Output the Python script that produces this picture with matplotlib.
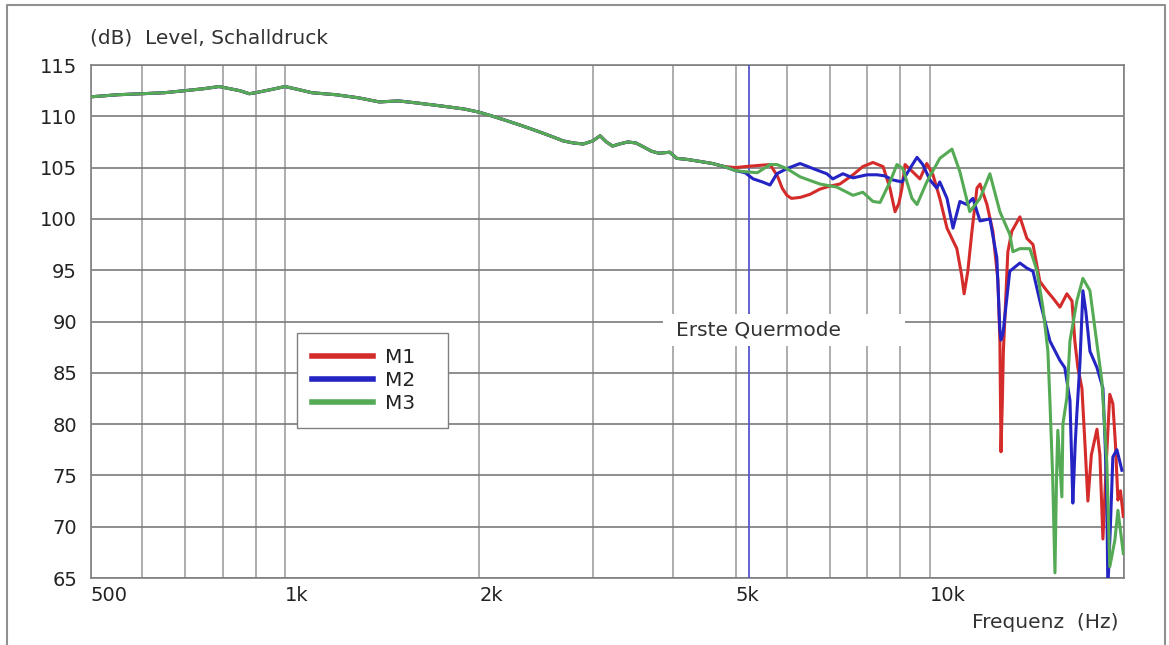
import matplotlib
matplotlib.use("Agg")
import matplotlib.pyplot as plt
from matplotlib.lines import Line2D
from matplotlib.patches import Rectangle
from matplotlib.ticker import NullFormatter

plt.rcParams["font.family"] = ["DejaVu Sans"]

# common part of all three measurements (up to ~5 kHz)
freq_low = [500, 550, 600, 650, 700, 750, 790, 850, 880, 900, 950, 1000, 1050, 1100,
            1200, 1300, 1400, 1500, 1600, 1700, 1800, 1900, 2000, 2100, 2200, 2300,
            2400, 2500, 2600, 2700, 2800, 2900, 3000, 3080, 3150, 3220, 3300, 3400,
            3500, 3600, 3700, 3800, 3950, 4050, 4200, 4400, 4600, 4800]
level_low = [111.9, 112.1, 112.2, 112.3, 112.5, 112.7, 112.9, 112.5, 112.2, 112.3, 112.6,
             112.9, 112.6, 112.3, 112.1, 111.8, 111.4, 111.5, 111.3, 111.1, 110.9, 110.7,
             110.4, 110.0, 109.6, 109.2, 108.8, 108.4, 108.0, 107.6, 107.4, 107.3, 107.6,
             108.1, 107.5, 107.1, 107.3, 107.5, 107.4, 107.0, 106.6, 106.4, 106.5, 105.9,
             105.8, 105.6, 105.4, 105.1]

# M1 above 5 kHz
freq_m1 = [5000, 5170, 5400, 5650, 5800, 5900, 6000, 6100, 6300, 6520, 6750, 7000, 7250,
           7600, 7870, 8160, 8460, 8670, 8830, 8950, 9050, 9150, 9400, 9650, 9890, 10110,
           10360, 10630, 11010, 11200, 11300, 11450, 11620, 11830, 11960, 12260, 12520,
           12750, 12840, 12890, 12950, 13000, 13210, 13400, 13790, 14140, 14450, 14810,
           15180, 15510, 15910, 16310, 16610, 16780, 16960, 17210, 17400, 17580, 17800,
           18160, 18350, 18550, 18800, 19010, 19220, 19400, 19570, 19750, 19950]
level_m1 = [105.0, 105.1, 105.2, 105.3, 104.2, 103.0, 102.3, 102.0, 102.1, 102.4, 102.9,
            103.2, 103.4, 104.3, 105.1, 105.5, 105.1, 103.0, 100.7, 101.5, 103.0, 105.3,
            104.6, 103.9, 105.4, 104.3, 102.0, 99.1, 97.1, 94.5, 92.7, 94.9, 98.8, 103.0,
            103.4, 101.4, 98.8, 94.0, 88.0, 77.3, 82.0, 87.1, 96.8, 98.8, 100.2, 98.1,
            97.5, 93.9, 93.0, 92.3, 91.4, 92.7, 92.0, 88.1, 85.5, 83.5, 78.0, 72.5, 77.0,
            79.5, 77.0, 68.8, 77.0, 82.9, 82.0, 78.0, 72.6, 73.5, 71.0]

# M2 above 5 kHz
freq_m2 = [5000, 5170, 5320, 5500, 5650, 5790, 6000, 6290, 6590, 6920, 7070, 7330, 7600,
           7990, 8280, 8500, 8760, 9050, 9310, 9550, 9750, 10000, 10250, 10360, 10630,
           10860, 11130, 11410, 11660, 11960, 12390, 12700, 12840, 12890, 12980, 13300,
           13790, 14140, 14450, 14810, 15350, 15910, 16190, 16490, 16600, 16660, 16800,
           16900, 17090, 17270, 17450, 17710, 18160, 18550, 18700, 18810, 18880, 19050,
           19220, 19500, 19850]
level_m2 = [104.7, 104.5, 103.9, 103.6, 103.3, 104.4, 104.9, 105.4, 104.9, 104.4, 103.9,
            104.4, 104.0, 104.3, 104.3, 104.2, 103.8, 103.6, 104.9, 106.0, 105.3, 103.8,
            103.0, 103.6, 102.0, 99.1, 101.7, 101.4, 102.0, 99.8, 100.0, 96.2, 89.1, 88.2,
            88.8, 94.9, 95.7, 95.2, 94.9, 92.0, 88.1, 86.2, 85.5, 82.3, 76.0, 72.3, 78.0,
            81.0, 86.0, 93.0, 91.0, 87.1, 85.5, 83.5, 78.0, 72.6, 64.0, 70.0, 76.8, 77.5,
            75.5]

# M3 above 5 kHz
freq_m3 = [5000, 5170, 5400, 5650, 5790, 6000, 6290, 6750, 7170, 7600, 7870, 8160, 8370,
           8670, 8890, 9080, 9380, 9550, 9890, 10360, 10820, 11130, 11530, 11960, 12390,
           12840, 13300, 13450, 13790, 14290, 14650, 14970, 15240, 15350, 15500, 15630,
           15720, 15790, 16020, 16080, 16310, 16490, 16900, 17270, 17710, 18160, 18480,
           18810, 19010, 19360, 19570, 19950]
level_m3 = [104.7, 104.6, 104.5, 105.3, 105.3, 104.9, 104.1, 103.4, 103.1, 102.3, 102.6,
            101.7, 101.6, 103.6, 105.3, 104.9, 102.0, 101.4, 103.6, 105.9, 106.8, 104.6,
            100.7, 102.0, 104.4, 100.7, 98.5, 96.8, 97.1, 97.1, 95.0, 91.4, 87.1, 82.3,
            75.0, 65.5, 75.0, 79.4, 72.9, 80.0, 82.6, 88.1, 92.0, 94.2, 93.0, 87.8, 84.2,
            76.2, 66.1, 68.7, 71.6, 67.4]

series = {
    "M1": (freq_low + freq_m1, level_low + level_m1, "#d42b2b"),
    "M2": (freq_low + freq_m2, level_low + level_m2, "#2424c4"),
    "M3": (freq_low + freq_m3, level_low + level_m3, "#55aa55"),
}

major_ticks = [500, 1000, 2000, 5000, 10000]
major_labels = ["500", "1k", "2k", "5k", "10k"]
minor_ticks = [600, 700, 800, 900, 3000, 4000, 6000, 7000, 8000, 9000, 20000]
y_ticks = [65, 70, 75, 80, 85, 90, 95, 100, 105, 110, 115]
mode_freq = 5240

FS = 14.5
W, H = 1169, 645
fig = plt.figure(figsize=(W / 100, H / 100), dpi=100)
ax = fig.add_axes([91 / W, 1 - 578 / H, (1124 - 91) / W, (578 - 65) / H])

for name, (f, lvl, c) in series.items():
    ax.plot(f, lvl, color=c, lw=2.2, zorder=4, solid_joinstyle="round")

ax.set_xscale("log")
ax.set_xlim(500, 20000)
ax.set_ylim(65, 115)
ax.set_xticks(major_ticks, major_labels)
ax.set_xticks(minor_ticks, minor=True)
ax.xaxis.set_minor_formatter(NullFormatter())
ax.set_yticks(y_ticks)
ax.tick_params(which="both", length=0, labelsize=14, colors="#222222")
ax.tick_params(axis="x", pad=6)
ax.tick_params(axis="y", pad=10)
for lbl in ax.get_xticklabels():
    lbl.set_ha("left")

ax.set_axisbelow(True)
ax.grid(axis="x", which="both", color="#a0a0a0", lw=1.2)
ax.grid(axis="y", which="major", color="#7a7a7a", lw=1.2)
for sp in ax.spines.values():
    sp.set_color("#808080")
    sp.set_linewidth(1.2)

ax.axvline(mode_freq, color="#5656cc", lw=1.3, zorder=3)

ax.add_patch(Rectangle((3855, 87.6), 9150 - 3855, 3.1, facecolor="white",
                       edgecolor="none", zorder=3.5))
ax.text(4040, 89.2, "Erste Quermode", fontsize=FS, color="#333333",
        va="center", ha="left", zorder=5)

handles = [Line2D([], [], color=c, lw=4) for (_, _, c) in series.values()]
leg = ax.legend(handles, list(series.keys()), loc="upper left",
                bbox_to_anchor=(0.1994, 0.0, 0.1462, 0.4776), mode="expand",
                borderaxespad=0, fontsize=FS, fancybox=False, framealpha=1,
                edgecolor="#808080", borderpad=0.75, labelspacing=0.2,
                handlelength=3.0, handletextpad=0.6)
leg.get_frame().set_linewidth(1.0)
for t in leg.get_texts():
    t.set_color("#222222")

fig.text(90 / W, 1 - 38 / H, "(dB)  Level, Schalldruck", fontsize=FS,
         color="#333333", va="center", ha="left")
fig.text(1119 / W, 1 - 622 / H, "Frequenz  (Hz)", fontsize=FS,
         color="#333333", va="center", ha="right")

# outer frame
fx = [7 / W, 7 / W, 1165 / W, 1165 / W]
fy = [0, 1 - 5 / H, 1 - 5 / H, 0]
fig.add_artist(Line2D(fx, fy, color="#909090", lw=1.5, transform=fig.transFigure))

fig.savefig("out.png", dpi=100)
